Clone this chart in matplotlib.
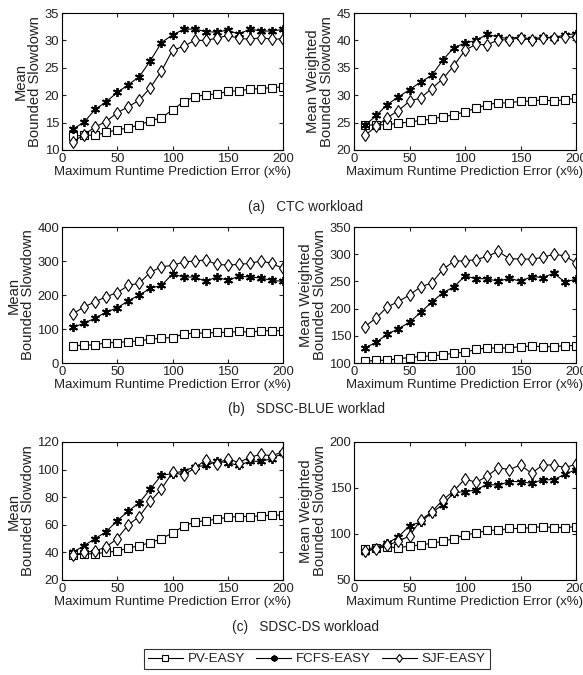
import matplotlib
matplotlib.use('Agg')
import matplotlib.pyplot as plt

plt.rcParams['font.family'] = ['Liberation Sans', 'DejaVu Sans']

x = list(range(10, 201, 10))

# (a) CTC workload
ctc_mbs_pv = [12.5, 12.7, 12.7, 13.2, 13.7, 14.0, 14.6, 15.3, 15.9, 17.3, 18.8, 19.7, 20.1, 20.2, 20.7, 20.8, 21.1, 21.2, 21.4, 21.5]
ctc_mbs_fcfs = [13.8, 15.1, 17.4, 18.8, 20.5, 21.9, 23.4, 26.3, 29.6, 31.0, 32.0, 32.1, 31.6, 31.5, 31.9, 31.1, 32.1, 31.7, 31.7, 32.0]
ctc_mbs_sjf = [11.5, 12.8, 14.2, 15.2, 16.8, 17.9, 19.1, 21.4, 24.4, 28.2, 28.9, 30.0, 30.0, 30.4, 30.9, 30.4, 30.2, 30.5, 30.2, 30.3]

ctc_mwbs_pv = [24.5, 24.6, 24.6, 24.9, 25.1, 25.4, 25.6, 26.1, 26.4, 27.0, 27.6, 28.3, 28.6, 28.6, 28.9, 28.9, 29.2, 28.9, 29.2, 29.4]
ctc_mwbs_fcfs = [24.5, 26.3, 28.3, 29.7, 31.0, 32.4, 33.6, 36.4, 38.7, 39.5, 40.0, 41.1, 40.6, 40.3, 40.7, 40.2, 40.6, 40.5, 41.0, 41.2]
ctc_mwbs_sjf = [22.7, 24.3, 25.9, 27.2, 28.9, 29.5, 31.2, 33.0, 35.4, 38.2, 39.3, 39.2, 40.1, 40.1, 40.5, 40.0, 40.4, 40.5, 40.6, 40.6]

# (b) SDSC-BLUE workload
blue_mbs_pv = [50, 53, 53, 60, 60, 63, 65, 70, 73, 75, 85, 88, 88, 90, 90, 93, 90, 95, 95, 95]
blue_mbs_fcfs = [105, 117, 132, 150, 162, 183, 200, 220, 228, 262, 253, 253, 240, 253, 243, 255, 253, 250, 243, 240]
blue_mbs_sjf = [145, 165, 180, 195, 207, 228, 235, 267, 283, 287, 297, 300, 303, 290, 288, 290, 293, 300, 293, 278]

blue_mwbs_pv = [103, 105, 105, 108, 110, 112, 113, 115, 118, 120, 125, 128, 127, 128, 130, 131, 130, 130, 132, 132]
blue_mwbs_fcfs = [128, 138, 153, 163, 175, 193, 212, 229, 240, 260, 255, 255, 250, 256, 250, 259, 257, 265, 249, 254]
blue_mwbs_sjf = [167, 183, 203, 213, 225, 240, 247, 272, 287, 288, 290, 296, 305, 292, 291, 291, 294, 300, 297, 284]

# (c) SDSC-DS workload
ds_mbs_pv = [38, 39, 39, 40, 41, 43, 45, 47, 50, 54, 59, 62, 63, 64, 65.5, 66, 66, 66.5, 67, 67]
ds_mbs_fcfs = [40, 45, 50, 55, 63, 70, 76, 86, 96, 97, 99, 102, 103, 106, 105, 103, 106, 106, 108, 112]
ds_mbs_sjf = [38, 40, 41, 44, 50, 60, 66, 77, 86, 98, 96, 101, 107, 104, 108, 105, 109, 111, 110, 113]

ds_mwbs_pv = [84, 85, 86, 85, 87, 88, 90, 92, 95, 99, 101, 104, 104, 106, 106, 107, 108, 107, 107, 108]
ds_mwbs_fcfs = [80, 85, 90, 97, 109, 113, 123, 132, 145, 146, 148, 154, 153, 157, 157, 155, 159, 159, 165, 170]
ds_mwbs_sjf = [82, 84, 88, 92, 98, 115, 124, 137, 147, 160, 156, 163, 172, 170, 175, 166, 175, 175, 172, 176]

panels = [
    # (pv, fcfs, sjf, ylim, yticks, ylabel)
    (ctc_mbs_pv, ctc_mbs_fcfs, ctc_mbs_sjf, (10, 35), range(10, 36, 5), 'Mean\nBounded Slowdown'),
    (ctc_mwbs_pv, ctc_mwbs_fcfs, ctc_mwbs_sjf, (20, 45), range(20, 46, 5), 'Mean Weighted\nBounded Slowdown'),
    (blue_mbs_pv, blue_mbs_fcfs, blue_mbs_sjf, (0, 400), range(0, 401, 100), 'Mean\nBounded Slowdown'),
    (blue_mwbs_pv, blue_mwbs_fcfs, blue_mwbs_sjf, (100, 350), range(100, 351, 50), 'Mean Weighted\nBounded Slowdown'),
    (ds_mbs_pv, ds_mbs_fcfs, ds_mbs_sjf, (20, 120), range(20, 121, 20), 'Mean\nBounded Slowdown'),
    (ds_mwbs_pv, ds_mwbs_fcfs, ds_mwbs_sjf, (50, 200), range(50, 201, 50), 'Mean Weighted\nBounded Slowdown'),
]
captions = ['(a)   CTC workload', '(b)   SDSC-BLUE worklad', '(c)   SDSC-DS workload']

W, H = 583, 675
fig = plt.figure(figsize=(W / 100, H / 100), dpi=100)

lefts = [62, 354]
widths = [221, 222]
rows = [(13, 150), (227, 363), (442, 580)]
txt = '#222222'
fs = 9.0
asterisk = (6, 2, 0)

handles = None
for i, (pv, fcfs, sjf, ylim, yticks, ylabel) in enumerate(panels):
    r, c = divmod(i, 2)
    top, bot = rows[r]
    ax = fig.add_axes([lefts[c] / W, 1 - bot / H, widths[c] / W, (bot - top) / H])
    l1, = ax.plot(x, pv, color='black', lw=0.8, marker='s', ms=5.5, mfc='white', mew=0.8)
    l2, = ax.plot(x, fcfs, color='black', lw=0.8, marker=asterisk, ms=6.5, mew=1.3)
    l3, = ax.plot(x, sjf, color='black', lw=0.8, marker='d', ms=6.5, mfc='white', mew=0.8)
    handles = [l1, l2, l3]
    ax.set_xlim(0, 200)
    ax.set_ylim(*ylim)
    ax.set_xticks(range(0, 201, 50))
    ax.set_yticks(list(yticks))
    ax.tick_params(direction='in', top=True, right=True, length=3, labelsize=fs + 0.4, colors=txt, pad=2)
    for s in ax.spines.values():
        s.set_linewidth(0.8)
    ax.set_xlabel('Maximum Runtime Prediction Error (x%)', fontsize=fs + 0.5, color=txt, labelpad=1)
    ax.set_ylabel(ylabel, fontsize=10.6, color=txt, labelpad=2, linespacing=1.0)

cap_y = [207, 409, 627]
for cy, cap in zip(cap_y, captions):
    fig.text(306 / W, 1 - cy / H, cap, ha='center', va='center', fontsize=9.8, color=txt)

leg = fig.legend(handles, ['PV-EASY', 'FCFS-EASY', 'SJF-EASY'], loc='center',
                 bbox_to_anchor=(317 / W, 1 - 659 / H), ncol=3, fontsize=fs + 0.6,
                 frameon=True, fancybox=False, edgecolor='black', handlelength=2.6,
                 columnspacing=0.8, handletextpad=0.4, borderpad=0.3, markerscale=0.7)
leg.get_frame().set_linewidth(0.8)
for t in leg.get_texts():
    t.set_color(txt)

fig.savefig('out.png', dpi=100)
